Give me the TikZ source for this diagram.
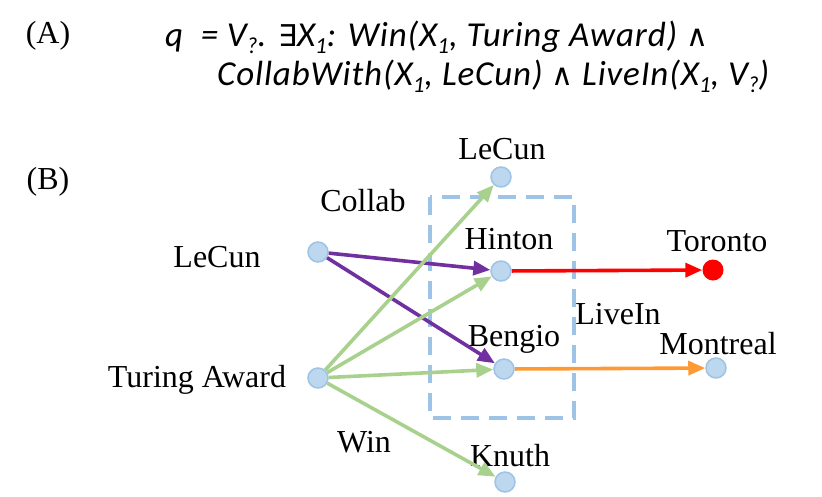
\documentclass[tikz,border=0pt]{standalone}
\usepackage{fontspec}
\setmainfont{Liberation Serif}
\newfontfamily\formfont{Carlito}[LetterSpace=2.5]
\newfontfamily\djv{DejaVu Sans}
\usetikzlibrary{arrows.meta}
\definecolor{nodefill}{HTML}{BDD7EE}
\definecolor{nodeline}{HTML}{9DC3E6}
\definecolor{wingreen}{HTML}{A9D18E}
\definecolor{collabpurple}{HTML}{7030A0}
\definecolor{liveorange}{HTML}{FF9933}
\newcommand\sbs[1]{\raisebox{-0.2em}{\fontsize{23}{24}\selectfont #1}}
\newcommand\opsym[1]{{\djv\upshape\fontsize{30}{32}\selectfont #1}}
\tikzset{
  ent/.style={circle, minimum size=20pt, inner sep=0pt, fill=nodefill, draw=nodeline, line width=1.5pt},
  lbl/.style={font=\fontsize{32}{35}\selectfont, inner sep=0pt},
  form/.style={font=\formfont\itshape\fontsize{35}{38}\selectfont, inner sep=0pt, anchor=base west},
  rel/.style={line width=3.6pt, -{Triangle[length=17pt,width=14pt]}, shorten >=0pt},
}
\begin{document}
\begin{tikzpicture}[x=1pt,y=-1pt]
\useasboundingbox (0,0) rectangle (822,496);
% part A
\node[lbl] (la) at (48,36) {(A)};
\node[form] (f1) at (165,46) {q\ \ = V\sbs{?}. \opsym{∃}X\sbs{1}: Win(X\sbs{1}, Turing Award) \opsym{∧}};
\node[form] (f2) at (217,85) {CollabWith(X\sbs{1}, LeCun) \opsym{∧} LiveIn(X\sbs{1}, V\sbs{?})};
% part B
\node[lbl] (lb) at (48,182) {(B)};
\draw[nodeline, line width=3.6pt, dash pattern=on 18pt off 10pt] (430,197) rectangle (574,418);
\node[ent] (lecunL) at (318,252) {};
\node[ent] (turing) at (318,378) {};
\node[ent] (lecunT) at (501,177) {};
\node[ent] (hinton) at (501,271) {};
\node[ent] (bengio) at (504,369) {};
\node[ent] (knuth) at (505,482) {};
\node[circle, minimum size=21pt, inner sep=0pt, fill=red] (toronto) at (713,270) {};
\node[ent] (montreal) at (716,368) {};
% labels
\node[lbl] (tLecunT) at (502,149) {LeCun};
\node[lbl] (tCollab) at (363,201) {Collab};
\node[lbl] (tLecunL) at (217,257) {LeCun};
\node[lbl] (tHinton) at (509,239) {Hinton};
\node[lbl] (tToronto) at (717,241) {Toronto};
\node[lbl] (tLiveIn) at (618,314) {LiveIn};
\node[lbl] (tBengio) at (514,339) {Bengio};
\node[lbl] (tMontreal) at (718,344) {Montreal};
\node[lbl] (tTuring) at (197,380) {Turing Award};
\node[lbl] (tWin) at (364,442) {Win};
\node[lbl] (tKnuth) at (510,456) {Knuth};
% edges
\draw[rel, collabpurple] (lecunL) -- (hinton);
\draw[rel, collabpurple] (lecunL) -- (bengio);
\draw[rel, wingreen] (turing) -- (lecunT);
\draw[rel, wingreen] (turing) -- (hinton);
\draw[rel, wingreen] (turing) -- (bengio);
\draw[rel, wingreen] (turing) -- (knuth);
\draw[rel, red] (hinton) -- (toronto);
\draw[rel, liveorange] (bengio) -- (montreal);
\end{tikzpicture}
\end{document}
